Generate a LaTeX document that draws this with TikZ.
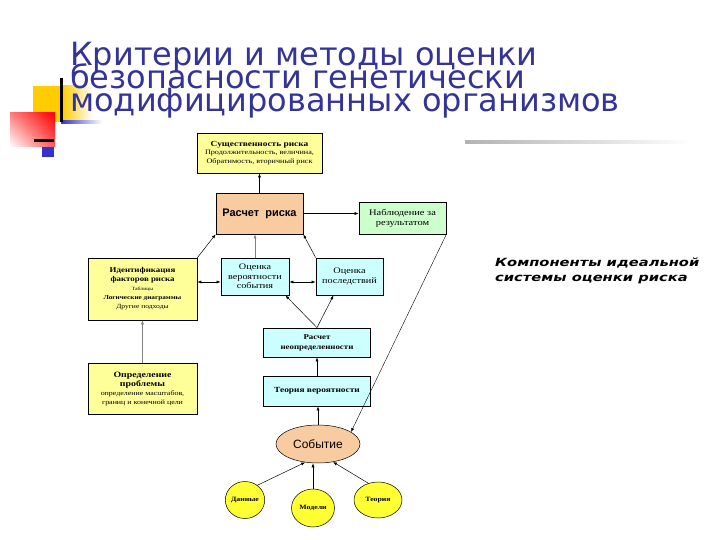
\documentclass[tikz,border=0pt]{standalone}
\usepackage{fontspec}
\setmainfont{Liberation Serif}
\newfontfamily\boxfont[FakeStretch=1.2]{Liberation Serif}
\newfontfamily\titlefont{DejaVu Sans}
\newfontfamily\compfont[FakeStretch=1.3]{DejaVu Sans}
\newfontfamily\arialfont{Liberation Sans}
\usetikzlibrary{arrows.meta,shapes.geometric,shadings}
\definecolor{cTitle}{RGB}{51,51,153}
\definecolor{cYel}{RGB}{255,255,153}
\definecolor{cOra}{RGB}{249,203,160}
\definecolor{cGrn}{RGB}{204,255,204}
\definecolor{cCyan}{RGB}{204,255,255}
\definecolor{cBright}{RGB}{255,255,51}
\definecolor{cDecoY}{RGB}{255,204,0}
\definecolor{cDecoB}{RGB}{51,51,204}
\newcommand{\fs}[2]{\fontsize{#1}{#2}\selectfont}
\begin{document}
\begin{tikzpicture}[x=1pt,y=-1pt,
  box/.style={draw=black, line width=0.7pt, align=center, inner sep=1pt, anchor=center,
    font=\boxfont\fs{8}{8.8}},
  oval/.style={draw=black, line width=0.5pt, ellipse, inner sep=0pt, anchor=center,
    font=\boxfont\fs{6.5}{7}\bfseries},
  arr/.style={-{Latex[length=4pt,width=3pt]}, line width=0.5pt},
  darr/.style={{Latex[length=4pt,width=3pt]}-{Latex[length=4pt,width=3pt]}, line width=0.5pt},
  title/.style={anchor=base west, inner sep=0pt, text=cTitle, font=\titlefont\fs{32}{32}}
]
\useasboundingbox (0,0) rectangle (720,540);
% decoration
\fill[cDecoY] (33,86) rectangle (62,122);
\shade[left color=cDecoY, right color=white] (62,86) rectangle (92,122);
\shade[left color=cDecoB, right color=white] (61,120.5) rectangle (102,124);
\shade[upper right=red, upper left=red!50, lower left=white, lower right=red!65] (10,113) rectangle (55,147);
\fill[black] (59.5,78) rectangle (62.5,122);
\fill[black] (34,139.5) rectangle (54,142.5);
\fill[cDecoB] (42,147) rectangle (54,157);
\shade[left color=gray!60, right color=white] (465,140.5) rectangle (692,143.5);
% title
\node[title] (t1) at (70,66) {Критерии и методы оценки};
\node[title] (t2) at (70,89) {безопасности генетически};
\node[title] (t3) at (70,112) {модифицированных организмов};
% boxes
\node[box, fill=cYel, minimum width=125, minimum height=40, font=\boxfont\fs{6.8}{8.4}] (sush) at (259.5,153)
  {{\bfseries\fs{7.8}{8.6}Существенность риска}\\Продолжительность, величина,\\Обратимость, вторичный риск};
\node[box, fill=cOra, minimum width=87, minimum height=41, font=\arialfont\fs{11}{12}\bfseries] (rasch) at (259.5,213.5) {Расчет\ \ риска};
\node[box, fill=cGrn, minimum width=87, minimum height=32, font=\boxfont\fs{8.7}{10}] (nabl) at (402.5,218) {Наблюдение за\\результатом};
\node[box, fill=cYel, minimum width=109, minimum height=62, font=\boxfont\fs{7.4}{9}] (ident) at (142.5,289)
  {\textbf{Идентификация}\\\textbf{факторов риска}\\{\fs{4.8}{5.5}Таблицы}\\{\fs{6}{7}\bfseries Логические диаграммы}\\{\fs{6.3}{9}Другие подходы}};
\node[box, fill=cCyan, minimum width=68, minimum height=37, font=\boxfont\fs{8.5}{9.5}] (ocver) at (255,276.5) {Оценка\\вероятности\\события};
\node[box, fill=cCyan, minimum width=67, minimum height=37, font=\boxfont\fs{8.5}{9.5}] (ocpos) at (349.5,276.5) {Оценка\\последствий};
\node[box, fill=cCyan, minimum width=107, minimum height=29, font=\boxfont\fs{7.4}{10}\bfseries] (neopr) at (317,342.5) {Расчет\\неопределенности};
\node[box, fill=cCyan, minimum width=107, minimum height=30, font=\boxfont\fs{7.8}{9}\bfseries] (teor) at (317,391) {Теория вероятности};
\node[box, fill=cYel, minimum width=109, minimum height=51, font=\boxfont\fs{8.2}{9}] (opred) at (142.5,388.5)
  {\textbf{Определение}\\\textbf{проблемы}\\{\fs{6.6}{8}определение масштабов,}\\{\fs{6.6}{8}границ и конечной цели}};
\node[oval, fill=cOra, minimum width=84, minimum height=38, font=\arialfont\fs{12}{13}] (sob) at (318,444) {Событие};
\node[oval, fill=cBright, minimum width=38, minimum height=37] (dan) at (245,500) {Данные};
\node[oval, fill=cBright, minimum width=43, minimum height=38] (mod) at (313,508) {Модели};
\node[oval, fill=cBright, minimum width=48, minimum height=36] (teo) at (378,500) {Теория};
% connectors
\draw[arr] (rasch) -- (sush);
\draw[arr] (rasch.east) -- (rasch.east -| nabl.west);
\draw[arr] (ident.north east) -- (rasch.south west);
\draw[arr, gray] (ocver.north) -- (ocver.north |- rasch.south);
\draw[arr] (ocpos.north west) -- (rasch.south east);
\draw[darr] ([yshift=-5.5pt]ocver.west) -- ([yshift=-5.5pt]ocver.west -| ident.east);
\draw[darr] ([yshift=-5.5pt]ocver.east) -- ([yshift=-5.5pt]ocver.east -| ocpos.west);
\draw[arr] (neopr.north) -- ([xshift=-4pt]ocver.south east);
\draw[arr] (neopr.north) -- ([xshift=-16pt]ocpos.south);
\draw[arr] (teor) -- (neopr);
\draw[arr] (sob.north) -- (sob.north |- teor.south);
\draw[arr, line width=0.4pt] (nabl.south east) -- (sob.20);
\draw[arr, gray] (opred.north) -- (ident.south);
\draw[arr] (dan.50) -- (sob.235);
\draw[arr] (mod.north) -- (mod.north |- sob.south);
\draw[arr] (teo.120) -- (sob.-50);
% side text
\node[anchor=base west, align=left, inner sep=0pt, font=\compfont\fs{11.3}{14.5}\bfseries\itshape] (comp) at (495,281)
  {Компоненты идеальной\\системы оценки риска};
\end{tikzpicture}
\end{document}
